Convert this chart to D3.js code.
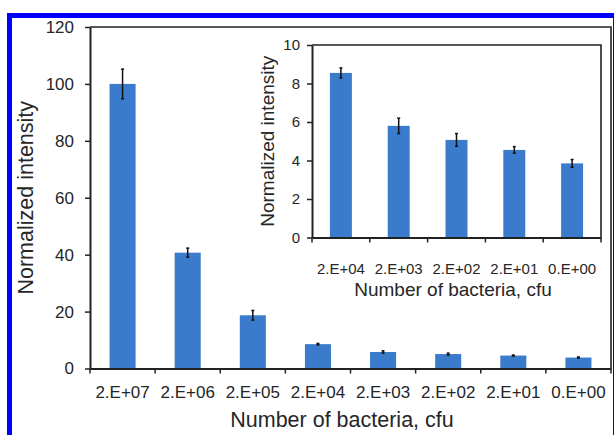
<!DOCTYPE html>
<html>
<head>
    <meta charset="utf-8">
    <script src="https://cdn.jsdelivr.net/npm/d3@7"></script>
    <style>
        body { margin: 0; background: #fff; }
        text { font-family: "Liberation Sans", Arial, sans-serif; fill: #262626; }
    </style>
</head>
<body>
<div id="chart"></div>
<script>
    // all eight samples, the inset repeats the last five
    var counts = ["2.E+07", "2.E+06", "2.E+05", "2.E+04", "2.E+03", "2.E+02", "2.E+01", "0.E+00"];
    var intensity = [100, 40.7, 18.7, 8.55, 5.8, 5.07, 4.55, 3.85];
    var errs = [5.2, 1.6, 1.7, 0.26, 0.4, 0.33, 0.17, 0.2];
    var mainTicks = [0, 20, 40, 60, 80, 100, 120];
    var insetTicks = [0, 2, 4, 6, 8, 10];
    var insetFrom = 3;

    var W = 614, H = 435;
    var barColor = "#3a7bcb";

    var svg = d3.select("#chart").append("svg")
        .attr("width", W)
        .attr("height", H);

    // blue frame round the figure
    svg.append("rect")
        .attr("x", 9.5).attr("y", 15.5)
        .attr("width", 606).attr("height", 440)
        .attr("fill", "none")
        .attr("stroke", "#0000ff")
        .attr("stroke-width", 5);

    function drawPanel(g, opt) {
        var cats = opt.cats, vals = opt.vals, er = opt.errs;
        var x = d3.scaleBand().domain(cats).range([opt.left, opt.right]).padding(0);
        var y = d3.scaleLinear().domain([0, opt.ymax]).range([opt.bottom, opt.top]);

        // plot frame (top + right)
        g.append("path")
            .attr("d", "M" + opt.left + "," + opt.top + "H" + opt.right + "V" + opt.bottom)
            .attr("fill", "none").attr("stroke", "#222").attr("stroke-width", 1.6);

        var bw = x.bandwidth() * opt.barFrac;
        var off = (x.bandwidth() - bw) / 2;

        g.selectAll(".bar").data(vals).enter().append("rect")
            .attr("x", function(d, i) { return x(cats[i]) + off; })
            .attr("y", function(d) { return y(d); })
            .attr("width", bw)
            .attr("height", function(d) { return y(0) - y(d); })
            .attr("fill", barColor);

        // error bars
        var eg = g.append("g").attr("stroke", "#111").attr("stroke-width", 1.5);
        vals.forEach(function(d, i) {
            var cx = x(cats[i]) + x.bandwidth() / 2;
            eg.append("line").attr("x1", cx).attr("x2", cx)
                .attr("y1", y(d - er[i])).attr("y2", y(d + er[i]));
            [d - er[i], d + er[i]].forEach(function(v) {
                eg.append("line").attr("x1", cx - 1.5).attr("x2", cx + 1.5)
                    .attr("y1", y(v)).attr("y2", y(v));
            });
        });

        // y axis
        var ya = g.append("g")
            .attr("transform", "translate(" + opt.left + ",0)")
            .call(d3.axisLeft(y).tickValues(opt.ticks).tickSizeInner(5).tickSizeOuter(0).tickPadding(opt.yPad));
        ya.select(".domain").attr("stroke", "#222").attr("stroke-width", 2);
        ya.selectAll(".tick line").attr("stroke", "#222").attr("stroke-width", 1.5);
        ya.selectAll("text").style("font-size", opt.tickFont + "px").attr("fill", "#333");

        // x axis labels, ticks sit between the categories
        var xa = g.append("g")
            .attr("transform", "translate(0," + opt.bottom + ")")
            .call(d3.axisBottom(x).tickSize(0).tickPadding(opt.xPad));
        xa.select(".domain").attr("stroke", "#222").attr("stroke-width", 2);
        xa.selectAll("text").style("font-size", opt.tickFont + "px").attr("fill", "#333");
        var edges = cats.map(function(c) { return x(c); }).concat([opt.right]);
        g.selectAll(".xt").data(edges).enter().append("line")
            .attr("x1", function(d) { return d; }).attr("x2", function(d) { return d; })
            .attr("y1", opt.bottom).attr("y2", opt.bottom + 5)
            .attr("stroke", "#222").attr("stroke-width", 1.5);

        g.append("text")
            .attr("x", opt.xTitleX)
            .attr("y", opt.xTitleY)
            .attr("text-anchor", "middle")
            .style("font-size", opt.titleFont + "px")
            .text("Number of bacteria, cfu");

        g.append("text")
            .attr("transform", "translate(" + opt.yTitleX + "," + ((opt.top + opt.bottom) / 2) + ")rotate(-90)")
            .attr("text-anchor", "middle")
            .attr("dy", "0.35em")
            .style("font-size", opt.titleFont + "px")
            .text("Normalized intensity");
    }

    drawPanel(svg.append("g"), {
        cats: counts, vals: intensity, errs: errs,
        left: 90, right: 611, top: 27, bottom: 368.5, ymax: 120, ticks: mainTicks,
        barFrac: 0.4, tickFont: 17, titleFont: 21.5, yPad: 11, xPad: 17,
        xTitleX: 342, xTitleY: 427, yTitleX: 25
    });

    // inset
    var ins = svg.append("g");
    ins.append("rect").attr("x", 256).attr("y", 36).attr("width", 352).attr("height", 266).attr("fill", "#fff");
    drawPanel(ins, {
        cats: counts.slice(insetFrom), vals: intensity.slice(insetFrom), errs: errs.slice(insetFrom),
        left: 312, right: 601, top: 45, bottom: 237.5, ymax: 10, ticks: insetTicks,
        barFrac: 0.38, tickFont: 15, titleFont: 19, yPad: 7, xPad: 26,
        xTitleX: 453, xTitleY: 296, yTitleX: 267
    });
</script>
</body>
</html>
